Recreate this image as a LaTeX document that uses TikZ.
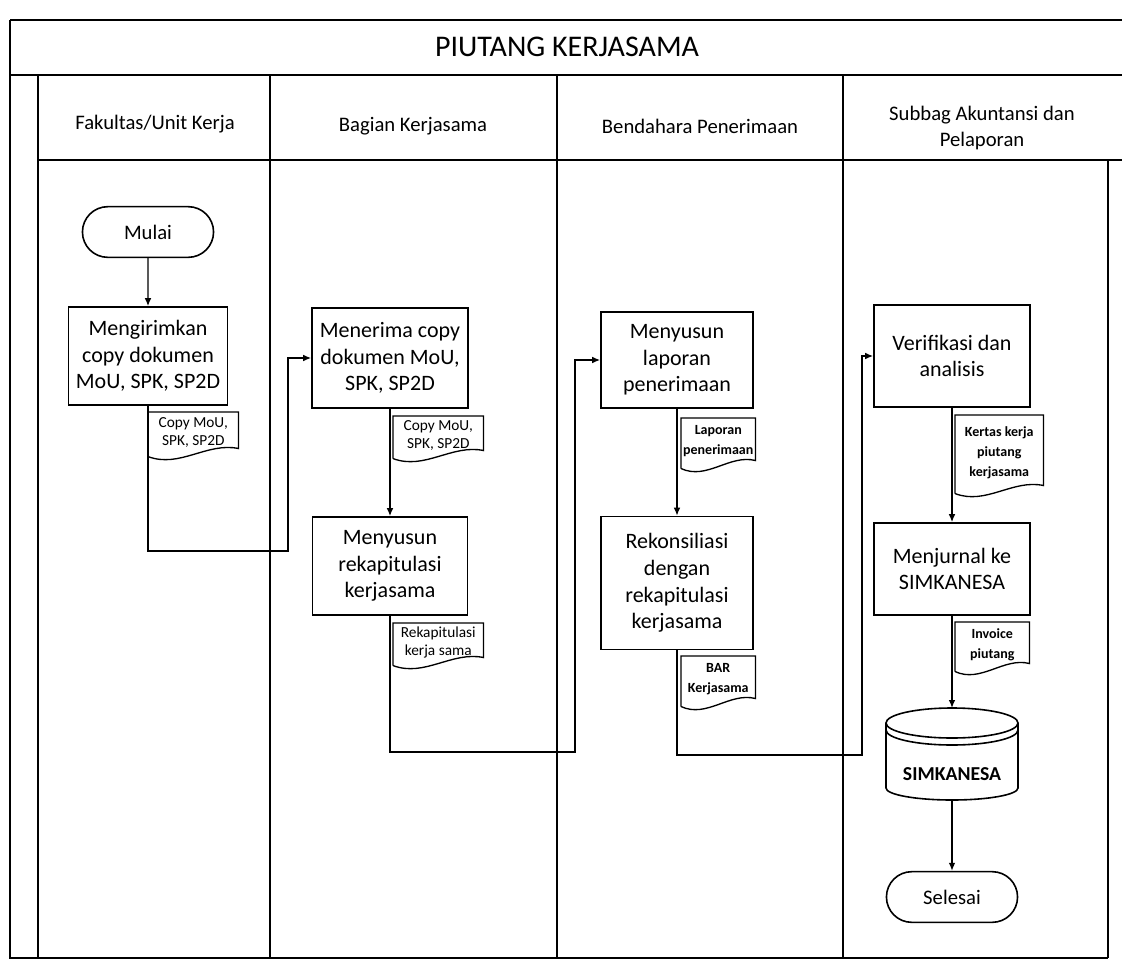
\documentclass[tikz,border=0pt]{standalone}
\usepackage{fontspec}
\setmainfont{Carlito}
\usetikzlibrary{arrows.meta,shapes.misc,calc}

% document symbol: rectangle with a wavy lower edge
% #1 name, #2 left x, #3 top y, #4 width, #5 body height (px), #6 extra options, #7 text
\newcommand\docsym[7]{%
  \node[docnode, #6, minimum width={#4*0.75pt}, minimum height={#5*0.75pt}] (#1) at (#2,#3) {#7};
  \draw[docline] ([yshift=-3pt]#1.south west) -- (#1.north west) -- (#1.north east)
    -- ([yshift=3pt]#1.south east)
    .. controls +({-0.35*#4*0.75pt},5pt) and +({0.35*#4*0.75pt},-9pt) .. ([yshift=-3pt]#1.south west);
}

\begin{document}
\begin{tikzpicture}[x=0.75pt,y=-0.75pt,
  frame/.style={line width=1.3pt},
  procbox/.style={draw, line width=1.2pt, align=center, inner sep=1.5pt,
    font=\fontsize{16.5}{20}\selectfont},
  terminal/.style={draw, rounded rectangle, line width=1.2pt, minimum width=105pt,
    minimum height=38pt, font=\fontsize{15.5}{19}\selectfont},
  docnode/.style={align=center, inner sep=1pt, anchor=north west},
  docplain/.style={font=\fontsize{11.5}{13.5}\selectfont},
  docbold/.style={font=\fontsize{10.5}{15}\selectfont\bfseries},
  docline/.style={line width=1pt},
  flow/.style={line width=1.1pt, -{Latex[length=6pt,width=5pt]}},
  lanetitle/.style={align=center, font=\fontsize{15.5}{20}\selectfont}]

\useasboundingbox (0,0) rectangle (1122,964);

% swimlane frame
\draw[frame] (10,20) -- (1122,20);
\draw[frame] (10,20) -- (10,958) -- (1108,958);
\draw[frame] (10,75) -- (1122,75);
\draw[frame] (38,75) -- (38,958);
\draw[frame] (38,160) -- (1122,160);
\draw[frame] (270,75) -- (270,958);
\draw[frame] (557,75) -- (557,958);
\draw[frame] (843,75) -- (843,958);
\draw[frame] (1108,160) -- (1108,958);

\node[font=\fontsize{22.5}{26}\selectfont] (title) at (567,47) {PIUTANG KERJASAMA};
\node[lanetitle] (lane1) at (155,124) {Fakultas/Unit Kerja};
\node[lanetitle] (lane2) at (413,126) {Bagian Kerjasama};
\node[lanetitle] (lane3) at (700,126) {Bendahara Penerimaan};
\node[lanetitle] (lane4) at (982,128) {Subbag Akuntansi dan\\Pelaporan};

% Fakultas/Unit Kerja
\node[terminal] (mulai) at (148,232) {Mulai};
\node[procbox, minimum width=119pt, minimum height=73.5pt] (kirim) at (148,356)
  {Mengirimkan\\copy dokumen\\MoU, SPK, SP2D};
\docsym{dkirim}{148}{412}{90}{40}{docplain}{Copy MoU,\\SPK, SP2D}

% Bagian Kerjasama
\node[procbox, minimum width=117pt, minimum height=75pt] (terima) at (390,358)
  {Menerima copy\\dokumen MoU,\\SPK, SP2D};
\docsym{dterima}{393}{416}{90}{38}{docplain}{Copy MoU,\\SPK, SP2D}
\node[procbox, minimum width=116pt, minimum height=73.5pt] (rekap) at (390,566)
  {Menyusun\\rekapitulasi\\kerjasama};
\docsym{drekap}{393}{623}{90}{38}{docplain}{Rekapitulasi\\kerja sama}

% Bendahara Penerimaan
\node[procbox, minimum width=114pt, minimum height=72pt] (lapor) at (677,360)
  {Menyusun\\laporan\\penerimaan};
\docsym{dlapor}{681}{418}{74}{46}{docbold}{Laporan\\penerimaan}
\node[procbox, minimum width=114pt, minimum height=99.75pt] (rekon) at (677,583)
  {Rekonsiliasi\\dengan\\rekapitulasi\\kerjasama};
\docsym{drekon}{681}{656}{74}{46}{docbold}{BAR\\Kerjasama}

% Subbag Akuntansi dan Pelaporan
\node[procbox, minimum width=117pt, minimum height=76.5pt] (verif) at (952,356)
  {Verifikasi dan\\analisis};
\docsym{dverif}{955}{415}{88}{74}{docbold}{Kertas kerja\\piutang\\kerjasama}
\node[procbox, minimum width=117pt, minimum height=69pt] (jurnal) at (952,569)
  {Menjurnal ke\\SIMKANESA};
\docsym{djurnal}{955}{622}{74}{45}{docbold}{Invoice\\piutang}

% database cylinder
\coordinate (simktop) at (952,708);
\coordinate (simkbot) at (952,800);
\draw[line width=1.2pt] (952,723) ellipse [x radius=49.5pt, y radius=11.25pt];
\draw[line width=1.2pt] (886,730) arc [start angle=180, end angle=360, x radius=49.5pt, y radius=11.25pt];
\draw[line width=1.2pt] (886,723) -- (886,788)
  arc [start angle=180, end angle=360, x radius=49.5pt, y radius=9pt] -- (1018,723);
\node[font=\fontsize{14.8}{19}\selectfont\bfseries] (simk) at (952,774) {SIMKANESA};

\node[terminal] (selesai) at (952,897) {Selesai};

% flow connectors
\coordinate (k1) at (288,551);
\coordinate (k2) at (575,752);
\coordinate (k3) at (862,755);
\draw[flow] (mulai) -- (kirim);
\draw[flow] (kirim.south) |- (k1) |- (terima.west);
\draw[flow] (terima) -- (rekap);
\draw[flow] (rekap.south) |- (k2) |- (lapor.west);
\draw[flow] (lapor) -- (rekon);
\draw[flow] (rekon.south) |- (k3) |- (verif.west);
\draw[flow] (verif) -- (jurnal);
\draw[flow] (jurnal.south) -- (simktop);
\draw[flow] (simkbot) -- (selesai.north);
\end{tikzpicture}
\end{document}
